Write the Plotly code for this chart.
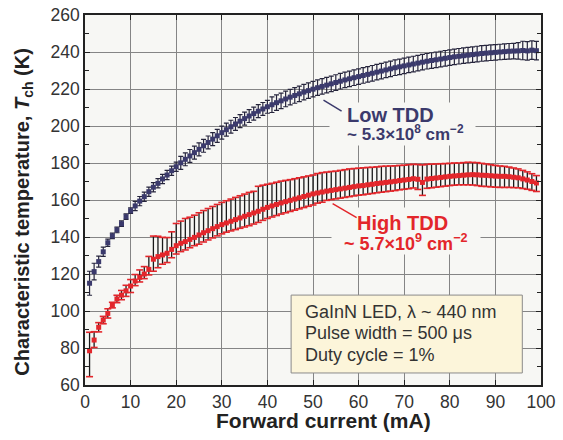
import numpy as np
import plotly.graph_objects as go

# ---------------- data ----------------
current_ma = list(range(1, 100))

low_tdd_T = [115.0, 121.3, 126.7, 132.0, 136.9, 140.6, 143.8, 147.2, 151.0, 154.2,
             156.8, 159.4, 161.8, 164.5, 166.9, 169.0, 171.4, 173.5, 175.8, 178.0,
             180.1, 182.0, 183.8, 185.6, 187.4, 189.3, 191.1, 192.9, 194.7, 196.4,
             198.0, 199.6, 201.1, 202.6, 204.0, 205.4, 206.7, 208.0, 209.2, 210.4,
             211.5, 212.6, 213.6, 214.6, 215.6, 216.5, 217.4, 218.3, 219.1, 219.9,
             220.7, 221.4, 222.1, 222.8, 223.5, 224.2, 224.9, 225.5, 226.1, 226.7,
             227.3, 227.9, 228.5, 229.1, 229.7, 230.3, 230.9, 231.5, 232.0, 232.5,
             233.0, 233.5, 234.0, 234.5, 235.0, 235.4, 235.8, 236.2, 236.6, 237.0,
             237.4, 237.7, 238.0, 238.3, 238.6, 238.9, 239.2, 239.4, 239.6, 239.8,
             240.0, 240.2, 240.4, 240.5, 240.6, 240.8, 240.6, 241.0, 240.7]

low_tdd_err = [6.5, 4.5, 3.0, 2.5, 2.0, 1.5, 1.5, 1.5, 1.5, 1.5,
               2.5, 2.5, 2.5, 2.5, 2.5, 2.5, 2.5, 2.5, 2.5, 2.5,
               3.5, 3.5, 3.5, 3.5, 3.5, 3.5, 3.5, 3.5, 3.5, 3.5,
               3.5, 3.5, 3.5, 3.5, 3.5, 3.5, 3.5, 3.5, 3.5, 3.5,
               4.2, 4.2, 4.2, 4.2, 4.2, 4.2, 4.2, 4.2, 4.2, 4.2,
               4.2, 4.2, 4.2, 4.2, 4.2, 4.2, 4.2, 4.2, 4.2, 4.2,
               4.2, 4.2, 4.2, 4.2, 4.2, 4.2, 4.2, 4.2, 4.2, 4.2,
               4.2, 4.2, 4.2, 4.2, 4.2, 4.2, 4.2, 4.2, 4.2, 4.2,
               4.2, 4.2, 4.2, 4.2, 4.2, 4.2, 4.2, 4.2, 4.2, 4.2,
               4.2, 4.2, 4.2, 4.2, 4.5, 5.0, 5.0, 5.0, 5.0]

high_tdd_T = [78.5, 84.3, 91.2, 95.1, 98.7, 103.2, 106.5, 108.6, 110.9, 113.5,
              116.2, 118.2, 120.0, 122.5, 128.0, 129.4, 130.3, 131.2, 133.3, 135.3,
              136.6, 137.5, 138.7, 139.8, 141.1, 142.3, 143.4, 144.5, 145.6, 146.7,
              147.6, 148.5, 149.4, 150.3, 151.2, 152.1, 153.0, 153.9, 155.0, 156.0,
              156.8, 157.6, 158.4, 159.1, 159.8, 160.5, 161.2, 161.9, 162.6, 163.3,
              163.8, 164.3, 164.8, 165.2, 165.6, 166.0, 166.4, 166.8, 167.2, 167.6,
              167.8, 168.2, 168.5, 168.9, 169.2, 169.5, 169.8, 170.1, 170.5, 170.8,
              171.1, 171.5, 171.2, 169.5, 171.3, 171.6, 171.9, 172.2, 172.5, 172.8,
              173.0, 173.2, 173.4, 173.6, 173.7, 173.6, 173.4, 173.3, 173.1, 172.9,
              172.8, 172.8, 172.6, 172.3, 172.0, 171.4, 170.8, 170.0, 169.2]

high_tdd_err_plus = [10.0, 4.5, 2.5, 2.0, 2.5, 1.5, 2.0, 2.5, 3.0, 3.5,
                     3.5, 4.0, 4.0, 7.0, 12.5, 11.0, 9.5, 8.5, 9.5, 12.0,
                     12.0, 12.5, 12.0, 12.0, 12.0, 12.0, 12.0, 12.0, 12.0, 12.0,
                     12.0, 12.0, 12.0, 12.0, 12.0, 12.0, 11.7, 13.5, 13.0, 12.5,
                     12.2, 12.0, 11.8, 11.5, 11.2, 11.0, 10.8, 10.6, 10.4, 10.2,
                     10.5, 10.5, 10.3, 10.2, 10.0, 10.0, 10.0, 10.0, 9.8, 9.6,
                     9.6, 9.4, 9.2, 9.0, 9.0, 8.8, 8.6, 8.4, 8.2, 8.0,
                     8.0, 7.8, 8.0, 9.5, 8.0, 7.8, 7.6, 7.4, 7.2, 7.0,
                     7.0, 6.8, 6.8, 6.8, 6.6, 6.6, 6.4, 6.2, 6.0, 5.8,
                     5.6, 5.4, 5.2, 5.0, 4.8, 4.6, 4.4, 4.2, 4.0]

high_tdd_err_minus = [14.0, 4.0, 2.5, 2.0, 2.5, 1.5, 2.0, 2.5, 3.0, 3.5,
                      2.5, 2.5, 2.5, 3.0, 6.5, 6.0, 5.0, 5.0, 4.5, 4.5,
                      4.5, 4.5, 4.5, 4.5, 5.0, 5.0, 5.0, 5.0, 5.0, 5.0,
                      5.0, 5.2, 5.4, 5.6, 5.8, 6.0, 6.0, 6.0, 6.0, 6.0,
                      6.0, 6.0, 6.0, 6.0, 6.0, 6.0, 6.0, 6.0, 6.0, 6.0,
                      5.5, 5.5, 5.0, 5.0, 5.0, 5.0, 5.0, 5.0, 5.0, 5.0,
                      5.0, 5.0, 5.0, 5.0, 5.0, 5.0, 5.0, 5.0, 5.0, 5.0,
                      5.0, 5.0, 5.5, 7.0, 5.0, 5.0, 5.0, 5.0, 5.0, 5.0,
                      5.0, 5.0, 5.2, 5.4, 5.6, 5.8, 6.0, 6.0, 6.0, 6.0,
                      6.0, 6.0, 5.8, 5.6, 5.4, 5.2, 5.0, 4.8, 4.6]

x_ticks = [0, 10, 20, 30, 40, 50, 60, 70, 80, 90, 100]
y_ticks = [60, 80, 100, 120, 140, 160, 180, 200, 220, 240, 260]

info_lines = ["GaInN LED, λ ~ 440 nm", "Pulse width = 500 μs", "Duty cycle = 1%"]

# ---------------- style ----------------
NAVY = "#3b3a6c"
NAVY_BAR = "#26253c"
RED = "#e3262b"
FONT = "Liberation Sans, Arial, sans-serif"
PLOT_BG = "#f7f7f4"

hi = np.array(high_tdd_T)
hi_up = hi + np.array(high_tdd_err_plus)
hi_dn = hi - np.array(high_tdd_err_minus)

fig = go.Figure()

# Low TDD
fig.add_trace(go.Scatter(
    x=current_ma, y=low_tdd_T, mode="markers",
    marker=dict(symbol="square", size=5, color=NAVY),
    error_y=dict(type="data", array=low_tdd_err, visible=True,
                 color=NAVY_BAR, thickness=1.2, width=2.5),
    showlegend=False, hoverinfo="skip"))

# High TDD: black bars
fig.add_trace(go.Scatter(
    x=current_ma, y=high_tdd_T, mode="markers",
    marker=dict(symbol="square", size=5, color=RED),
    error_y=dict(type="data", symmetric=False, array=high_tdd_err_plus,
                 arrayminus=high_tdd_err_minus, visible=True,
                 color="#1a1a1a", thickness=1.3, width=0),
    showlegend=False, hoverinfo="skip"))

# High TDD: red caps
fig.add_trace(go.Scatter(
    x=current_ma + current_ma, y=list(hi_up) + list(hi_dn), mode="markers",
    marker=dict(symbol="line-ew", size=5, line=dict(color=RED, width=1.6)),
    showlegend=False, hoverinfo="skip"))

axis_common = dict(
    showline=True, linecolor="#222", linewidth=1.5, mirror="ticks",
    ticks="inside", ticklen=5, tickwidth=1.2, tickcolor="#222",
    showgrid=True, gridcolor="#858585", gridwidth=1,
    zeroline=False, automargin=False, ticklabeloverflow="allow",
    tickfont=dict(family=FONT, size=17.5, color="#333"),
)

fig.update_xaxes(**axis_common, range=[0, 100], tickvals=x_ticks)
fig.update_yaxes(
    **axis_common, range=[60, 260], tickvals=y_ticks,
    minor=dict(dtick=10, tick0=60, ticks="inside", ticklen=4,
               tickcolor="#222", showgrid=False))

annotations = [
    # axis titles
    dict(x=0.524, y=-0.097, xref="paper", yref="paper", showarrow=False,
         text="<b>Forward current (mA)</b>", xanchor="center", yanchor="middle",
         font=dict(family=FONT, size=21, color="#222")),
    dict(x=-0.134, y=0.468, xref="paper", yref="paper", showarrow=False,
         textangle=-90, xanchor="center", yanchor="middle",
         text="<b>Characteristic temperature, <i>T</i><sub>ch</sub> (K)</b>",
         font=dict(family=FONT, size=20, color="#222")),
    # background patches behind the curve labels (hide the grid)
    dict(x=69.6, y=201.1, xref="x", yref="y", text=" ", showarrow=False,
         width=145, height=42, bgcolor=PLOT_BG, borderpad=0),
    dict(x=70.4, y=143.2, xref="x", yref="y", text=" ", showarrow=False,
         width=148, height=46, bgcolor=PLOT_BG, borderpad=0),
    # leader lines
    dict(x=52.3, y=214.0, ax=56.6, ay=207.5, xref="x", yref="y",
         axref="x", ayref="y", text="", showarrow=True, arrowhead=0,
         arrowwidth=1.5, arrowcolor=NAVY),
    dict(x=54.3, y=158.0, ax=59.9, ay=150.0, xref="x", yref="y",
         axref="x", ayref="y", text="", showarrow=True, arrowhead=0,
         arrowwidth=1.5, arrowcolor=RED),
    # labels
    dict(x=67.1, y=205.9, xref="x", yref="y", text="<b>Low TDD</b>",
         showarrow=False, font=dict(family=FONT, size=20, color=NAVY)),
    dict(x=70.2, y=196.0, xref="x", yref="y",
         text="<b>~ 5.3×10<sup>8</sup> cm<sup>−2</sup></b>",
         showarrow=False, font=dict(family=FONT, size=17, color=NAVY)),
    dict(x=69.7, y=147.6, xref="x", yref="y", text="<b>High TDD</b>",
         showarrow=False, font=dict(family=FONT, size=20, color=RED)),
    dict(x=70.2, y=137.0, xref="x", yref="y",
         text="<b>~ 5.7×10<sup>9</sup> cm<sup>−2</sup></b>",
         showarrow=False, font=dict(family=FONT, size=18, color=RED)),
]

# info box text lines
for line, yv in zip(info_lines, [99.5, 88.1, 76.2]):
    annotations.append(dict(
        x=47.8, y=yv, xref="x", yref="y", xanchor="left", yanchor="middle",
        text=line, showarrow=False,
        font=dict(family=FONT, size=18, color="#333")))

fig.update_layout(
    width=563, height=440,
    margin=dict(l=85, r=22, t=15, b=55),
    paper_bgcolor="white", plot_bgcolor=PLOT_BG,
    annotations=annotations,
    shapes=[dict(type="rect", xref="x", yref="y", x0=45.2, x1=95.9,
                 y0=66.5, y1=108.6, layer="above",
                 fillcolor="#fcf5da", line=dict(color="#8a8a8a", width=1))],
    font=dict(family=FONT),
)

# remove the page's default body margin so the figure fills the window exactly
fig.write_html("out.html",
               config={"displayModeBar": False},
               post_script="document.body.style.margin='0';document.body.style.overflow='hidden';")
